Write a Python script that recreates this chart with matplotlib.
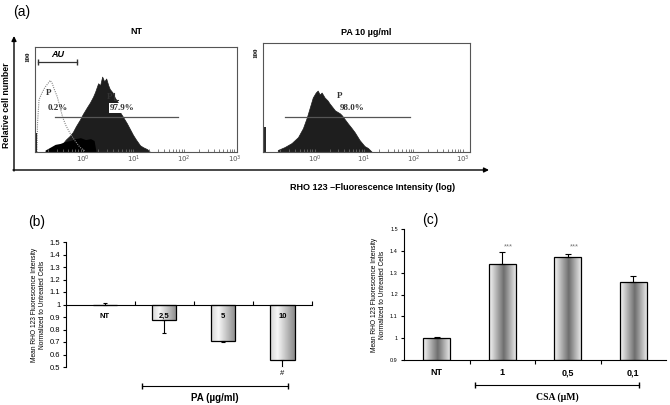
import numpy as np
import matplotlib.pyplot as plt
from matplotlib.colors import LinearSegmentedColormap

plt.rcParams['font.family'] = ['Liberation Sans', 'DejaVu Sans']

# (a) flow histograms: x = log10 intensity, y = relative cell number (0-100)
nt_x = [-0.65, -0.55, -0.46, -0.40, -0.34, -0.26, -0.20, -0.14, -0.06, 0.0, 0.08, 0.14,
        0.20, 0.24, 0.30, 0.34, 0.38, 0.42, 0.46, 0.50, 0.53, 0.59, 0.63, 0.69, 0.73,
        0.79, 0.87, 0.93, 0.99, 1.05, 1.13, 1.19, 1.27, 1.33]
nt_h = [2, 4, 6, 9, 13, 17, 21, 27, 34, 40, 47, 52, 58, 63, 72, 70, 79, 74, 77, 70, 66,
        62, 57, 52, 42, 37, 30, 24, 18, 13, 7, 5, 3, 0]
overlap_x = [-0.75, -0.65, -0.55, -0.45, -0.35, -0.25, -0.15, -0.05, 0.05, 0.15, 0.22, 0.26]
overlap_h = [2, 5, 8, 9, 11, 12, 14, 15, 13, 14, 12, 0]
unst_x = [-0.91, -0.90, -0.87, -0.81, -0.75, -0.69, -0.65, -0.61, -0.57, -0.51, -0.46,
          -0.40, -0.34, -0.26, -0.20, -0.12, -0.06, 0.04]
unst_h = [0, 30, 55, 62, 68, 72, 75, 72, 66, 58, 48, 36, 28, 20, 15, 9, 5, 1]
pa_x = [-0.75, -0.61, -0.47, -0.34, -0.24, -0.16, -0.10, -0.04, 0.02, 0.06, 0.10, 0.14,
        0.20, 0.26, 0.30, 0.41, 0.51, 0.55, 0.67, 0.75, 0.81, 0.91, 1.01, 1.08, 1.16]
pa_h = [2, 5, 9, 15, 24, 35, 45, 55, 60, 62, 58, 60, 55, 52, 49, 42, 39, 37, 29, 24, 20,
        12, 6, 4, 0]
hist_ticklabels = ['$10^0$', '$10^1$', '$10^2$', '$10^3$']

# (b) PA dose
b_cats = ['NT', '2,5', '5', '10']
b_vals = [1.0, 0.873, 0.707, 0.56]
b_err_lo = [0.0, 0.10, 0.005, 0.07]
b_err_hi = [0.01, 0.0, 0.0, 0.0]

# (c) CSA dose
c_cats = ['NT', '1', '0,5', '0,1']
c_vals = [1.0, 1.34, 1.372, 1.255]
c_err = [0.005, 0.055, 0.013, 0.028]
c_stars = ['', '***', '***', '']

W, H = 670, 405
fig = plt.figure(figsize=(W / 100, H / 100), dpi=100)


def add_ax(x0, y0, x1, y1):
    return fig.add_axes([x0 / W, 1 - y1 / H, (x1 - x0) / W, (y1 - y0) / H])


def hist_axes(ax, xlim):
    ax.set_xlim(*xlim)
    ax.set_ylim(0, 110)
    for s in ax.spines.values():
        s.set_color('#555555')
        s.set_linewidth(0.8)
    ax.set_xticks([0, 1, 2, 3])
    ax.set_xticklabels(hist_ticklabels, fontsize=5, color='#555555')
    minors = [d + np.log10(k) for d in range(-1, 4) for k in range(2, 10)]
    ax.set_xticks([m for m in minors if xlim[0] < m < xlim[1]], minor=True)
    ax.tick_params(axis='x', which='both', direction='in', length=2, width=0.6,
                   color='#666666', pad=1)
    ax.set_yticks([100])
    ax.set_yticklabels(['100'], rotation=90, fontsize=5, fontweight='bold',
                       family='Liberation Serif', va='center')
    ax.tick_params(axis='y', length=0, pad=3)


# ---- (a) left: NT
axl = add_ax(35, 47, 237, 152)
hist_axes(axl, (-0.95, 3.05))
axl.fill_between(nt_x, nt_h, color='#1e1e1e', lw=0.5, edgecolor='#1e1e1e')
axl.fill_between(overlap_x, overlap_h, color='#000000', lw=0)
axl.plot(unst_x, unst_h, color='#888888', lw=0.8, ls=(0, (1, 1)))
axl.vlines(-0.93, 0, 20, color='k', lw=1.2)
axl.plot([-0.55, 1.88], [37, 37], color='#555555', lw=0.9)
axl.plot([-0.89, -0.12], [94, 94], color='#333333', lw=0.9, marker='|', ms=4)
axl.text(-0.51, 97, 'AU', fontsize=6.5, fontweight='bold', style='italic', ha='center', va='bottom')
serif = dict(family='Liberation Serif', fontweight='bold', color='#333333', fontsize=6.5)
axl.text(-0.69, 62, 'P', ha='center', va='center', **serif)
axl.text(-0.50, 46, '0.2%', ha='center', va='center', **serif)
axl.text(0.53, 58, 'P', ha='center', va='center', **serif)
axl.plot([0.62, 0.62, 0.70], [62, 55, 55], color='#333333', lw=0.8)
axl.text(0.77, 46, '97.9%', ha='center', va='center',
         bbox=dict(facecolor='white', edgecolor='none', pad=0.5), **serif)
axl.set_title('NT', fontsize=6.5, fontweight='bold', pad=9)

# ---- (a) right: PA 10
axr = add_ax(263, 43, 470, 152)
hist_axes(axr, (-1.05, 3.15))
axr.fill_between(pa_x, pa_h, color='#1e1e1e', lw=0.5, edgecolor='#1e1e1e')
axr.vlines(-1.01, 0, 25, color='k', lw=1.2)
axr.plot([-0.61, 1.93], [35, 35], color='#555555', lw=0.9)
axr.text(0.51, 57, 'P', ha='center', va='center', **serif)
axr.text(0.75, 44, '98.0%', ha='center', va='center', **serif)
axr.set_title('PA 10 µg/ml', fontsize=6.5, fontweight='bold', pad=6)


def shade_bars(ax, bars, cmap):
    grad = np.linspace(0, 1, 64).reshape(1, -1)
    for b in bars:
        x0, y0, w, h = b.get_x(), b.get_y(), b.get_width(), b.get_height()
        if abs(h) < 1e-6:
            continue
        im = ax.imshow(grad, cmap=cmap, aspect='auto', zorder=2,
                       extent=[x0, x0 + w, min(y0, y0 + h), max(y0, y0 + h)])
        im.set_clip_path(b)


# ---- (b)
axb = add_ax(66, 242, 312, 367)
xb = np.arange(len(b_cats))
dv = [v - 1 for v in b_vals]
cmap_b = LinearSegmentedColormap.from_list('b', [(0, '#d6d6d6'), (0.3, '#f7f7f7'), (1, '#8a8a8a')])
bars = axb.bar(xb, dv, bottom=1, width=0.41, facecolor='none', edgecolor='k', lw=0.9, zorder=3)
shade_bars(axb, bars, cmap_b)
axb.errorbar(xb, b_vals, yerr=[b_err_lo, b_err_hi], fmt='none', ecolor='k',
             elinewidth=0.8, capsize=1.5, capthick=0.8, zorder=4)
for x, c in zip(xb, b_cats):
    axb.text(x, 0.905, c, ha='center', va='center', fontsize=5.5, fontweight='bold', zorder=5)
axb.text(3, 0.445, '#', ha='center', va='center', fontsize=5.5)
axb.set_xlim(-0.66, 3.5)
axb.set_ylim(0.5, 1.5)
axb.spines['top'].set_visible(False)
axb.spines['right'].set_visible(False)
axb.spines['bottom'].set_position(('data', 1))
axb.set_xticks([0.5, 1.5, 2.5, 3.5])
axb.set_xticklabels([])
axb.tick_params(axis='x', direction='in', length=3, width=0.8)
yt = np.round(np.arange(0.5, 1.51, 0.1), 1)
axb.set_yticks(yt)
axb.set_yticklabels(['1' if t == 1 else f'{t:.1f}' for t in yt], fontsize=5.5)
axb.tick_params(axis='y', length=2.5, width=0.8, pad=1.5)
axb.set_ylabel('Mean RHO 123 Fluorescence Intensity\nNormalized to Untreated Cells',
               fontsize=4.8, labelpad=3, linespacing=1.1)

# ---- (c)
axc = add_ax(404, 229, 666, 360)
xc = np.arange(len(c_cats))
cmap_c = LinearSegmentedColormap.from_list('c', [(0, '#f7f7f7'), (0.55, '#6e6e6e'), (1, '#e6e6e6')])
bars = axc.bar(xc, [v - 0.9 for v in c_vals], bottom=0.9, width=0.41, facecolor='none',
               edgecolor='k', lw=0.9, zorder=3)
shade_bars(axc, bars, cmap_c)
axc.errorbar(xc, c_vals, yerr=[[0] * len(c_err), c_err], fmt='none', ecolor='k',
             elinewidth=0.8, capsize=2, capthick=0.8, zorder=4)
for x, s in zip(xc, c_stars):
    axc.text(x + 0.1, 1.42, s, ha='center', va='center', fontsize=5.5, color='#777777')
axc.set_xlim(-0.5, 3.5)
axc.set_ylim(0.9, 1.5)
axc.spines['top'].set_visible(False)
axc.spines['right'].set_visible(False)
axc.set_xticks(xc)
axc.set_xticklabels(c_cats, fontsize=6.5, fontweight='bold')
axc.set_xticks([0.5, 1.5, 2.5], minor=True)
axc.tick_params(axis='x', which='major', length=0, pad=6)
axc.tick_params(axis='x', which='minor', length=3, width=0.8)
yt = np.round(np.arange(0.9, 1.51, 0.1), 1)
axc.set_yticks(yt)
axc.set_yticklabels(['1' if t == 1 else f'{t:.1f}' for t in yt], fontsize=4)
axc.tick_params(axis='y', length=2.5, width=0.8, pad=2)
axc.set_ylabel('Mean RHO 123 Fluorescence Intensity\nNormalized to Untreated Cells',
               fontsize=4.8, labelpad=3, linespacing=1.1)

# ---- overlay in pixel coords for labels, arrows and brackets
ov = fig.add_axes([0, 0, 1, 1])
ov.set_xlim(0, W)
ov.set_ylim(H, 0)
ov.axis('off')
ov.patch.set_alpha(0)
ov.annotate('', xy=(14, 36), xytext=(14, 171),
            arrowprops=dict(arrowstyle='-|>', color='k', lw=1, mutation_scale=7, shrinkA=0, shrinkB=0))
ov.annotate('', xy=(489, 170), xytext=(13, 170),
            arrowprops=dict(arrowstyle='-|>', color='k', lw=1, mutation_scale=7, shrinkA=0, shrinkB=0))
ov.text(7, 105, 'Relative cell number', rotation=90, ha='center', va='center',
        fontsize=6.3, fontweight='bold')
ov.text(373, 187, 'RHO 123 \u2013Fluorescence Intensity (log)', ha='center', va='center',
        fontsize=6.5, fontweight='bold')
ov.text(22, 12, '(a)', ha='center', va='center', fontsize=10)
ov.text(37, 222, '(b)', ha='center', va='center', fontsize=10)
ov.text(430, 220, '(c)', ha='center', va='center', fontsize=10)
ov.plot([142, 288], [386, 386], color='k', lw=0.8, marker='|', ms=5)
ov.text(215, 398, 'PA (µg/ml)', ha='center', va='center', fontsize=7, fontweight='bold')
ov.plot([475, 639], [385, 385], color='k', lw=0.8, marker='|', ms=5)
ov.text(557, 397, 'CSA (µM)', ha='center', va='center', fontsize=7, fontweight='bold',
        family='Liberation Serif')

fig.savefig('out.png', dpi=100)
